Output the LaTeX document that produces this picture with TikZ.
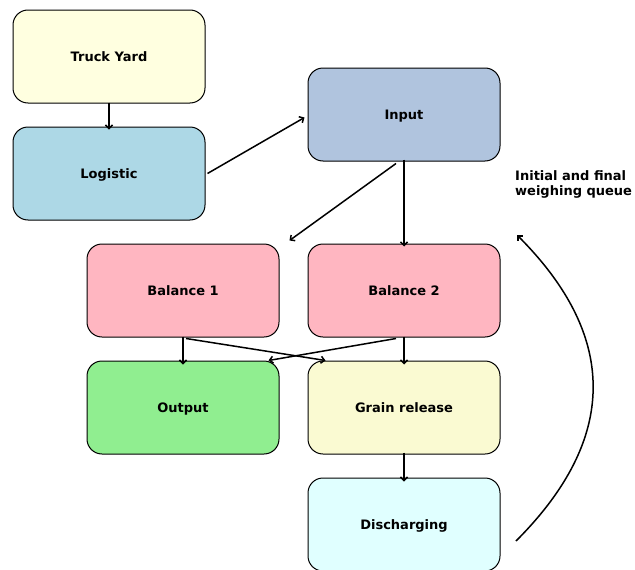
\documentclass[tikz,border=0pt]{standalone}
\usepackage{fontspec}
\setmainfont{DejaVu Sans}
\usetikzlibrary{arrows.meta, calc}

\definecolor{yardcol}{HTML}{FFFFE0}
\definecolor{logcol}{HTML}{ADD8E6}
\definecolor{inpcol}{HTML}{B0C4DE}
\definecolor{balcol}{HTML}{FFB6C1}
\definecolor{outcol}{HTML}{90EE90}
\definecolor{graincol}{HTML}{FAFAD2}
\definecolor{dischcol}{HTML}{E0FFFF}

\begin{document}
\begin{tikzpicture}
[x=1pt, y=-1pt,
 stage/.style={draw, line width=1pt, rounded corners=15pt, minimum width=192pt,
   minimum height=93pt, text height=11pt, text depth=2pt,
   font=\fontsize{13}{15}\selectfont\bfseries},
 flow/.style={line width=1.5pt, arrows={-Straight Barb[length=3.5pt, width=7pt]}}]
\useasboundingbox (0,0) rectangle (635,570);
\clip (0,0) rectangle (635,570);
% stages
\node[stage, fill=yardcol] (yard) at (109, 56.5) {Truck Yard};
\node[stage, fill=logcol] (logistic) at (109, 173.5) {Logistic};
\node[stage, fill=inpcol] (input) at (404, 114.5) {Input};
\node[stage, fill=balcol] (bal1) at (183, 290.5) {Balance 1};
\node[stage, fill=balcol] (bal2) at (404, 290.5) {Balance 2};
\node[stage, fill=outcol] (output) at (183, 407.5) {Output};
\node[stage, fill=graincol] (grain) at (404, 407.5) {Grain release};
\node[stage, fill=dischcol] (disch) at (404, 524.5) {Discharging};
\node[align=left, anchor=north west, inner sep=0pt,
  font=\fontsize{13}{15}\selectfont\bfseries] (queue) at (515, 170) {Initial and final\\weighing queue};
% connectors
\draw[flow] ([yshift=1]yard.south) -- ([yshift=-3]logistic.north);
\draw[flow] ([xshift=2]logistic.east) -- ($(input.west)+(-3,3)$);
\draw[flow] ($(input.south)+(-8,2)$) -- ($(bal1.north east)+(10,-3)$);
\draw[flow] ([yshift=2]input.south) -- ([yshift=-3]bal2.north);
\draw[flow] ([yshift=1]bal1.south) -- ([yshift=-4]output.north);
\draw[flow] ($(bal1.south)+(3,1)$) -- ($(grain.north west)+(18,0)$);
\draw[flow] ($(bal2.south)+(-8,1)$) -- ($(output.north east)+(-11,0)$);
\draw[flow] ([yshift=1]bal2.south) -- ([yshift=-4]grain.north);
\draw[flow] ([yshift=2]grain.south) -- ([yshift=-4]disch.north);
\coordinate (qstart) at (516, 541);
\coordinate (qend) at (517, 235);
\draw[flow] (qstart) .. controls (618, 439) and (619, 337) .. (qend);
\end{tikzpicture}
\end{document}
